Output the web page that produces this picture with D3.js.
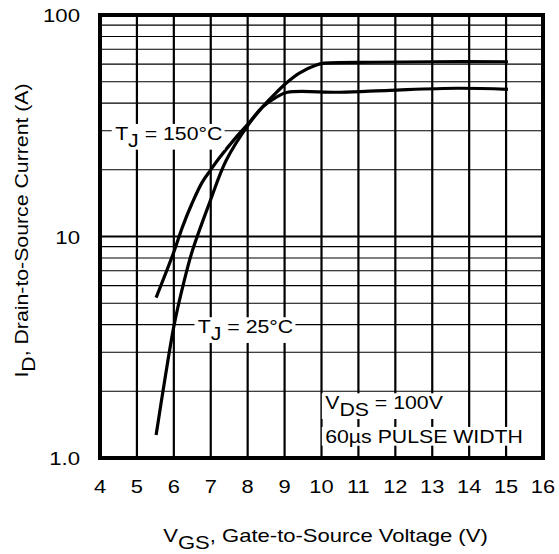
<!DOCTYPE html>
<html>
<head>
<meta charset="utf-8">
<script src="https://cdn.jsdelivr.net/npm/d3@7"></script>
<style>
  body { margin: 0; background: #fff; }
  svg text { font-family: "Liberation Sans", Arial, sans-serif; fill: #000; }
</style>
</head>
<body>
<svg id="chart" width="559" height="554"></svg>
<script>
const xTicks = [4, 5, 6, 7, 8, 9, 10, 11, 12, 13, 14, 15, 16]
const yTicks = [1, 10, 100]
const yTickLabels = ['1.0', '10', '100']
const vgs25 = [5.52, 5.76, 6.01, 6.28, 6.5, 6.96, 7.42, 8.05, 8.4, 8.66, 9.04, 9.4, 9.86, 10.03, 11.4, 13, 15.05]
const id25 = [1.27, 2.28, 4.0, 6.3, 8.6, 14.1, 22.1, 32.5, 38.4, 42.7, 49.2, 54.7, 59.4, 60.5, 61.2, 61.5, 61.5]
const vgs150 = [5.52, 6.01, 6.23, 6.5, 6.77, 7.0, 7.23, 7.69, 8.05, 8.4, 8.78, 9.08, 10.5, 11.85, 13.67, 15.05]
const id150 = [5.3, 8.6, 11.0, 14.2, 17.6, 20.0, 22.6, 28.1, 32.8, 38.4, 42.6, 44.8, 44.8, 45.7, 46.7, 46.2]

const FONT = 19
const SX = 1.12 // glyphs in the source are a bit wide
const SUB = 7

function setDimensions () {
  const margin = {top: 15, right: 16, bottom: 96, left: 100}
  const width = 559 - margin.left - margin.right
  const height = 554 - margin.top - margin.bottom
  return { width, height, margin }
}

function setScales ({ width, height }) {
  return {
    xScale: d3.scaleLinear().domain([4, 16]).range([0, width]),
    yScale: d3.scaleLog().domain([1, 100]).range([height, 0])
  }
}

// text with optional subscripts, stretched horizontally like the source
function addText (parent, x, y, anchor, parts, opts = {}) {
  const sx = opts.sx || SX
  const grp = parent.append('g')
    .attr('transform', `translate(${x},${y})` + (opts.rotate ? ' rotate(-90)' : '') + ` scale(${sx},1)`)
  const t = grp.append('text')
    .attr('text-anchor', anchor)
    .attr('font-size', FONT)
  let shift = 0
  parts.forEach(([str, sub]) => {
    const want = sub ? SUB : 0
    t.append('tspan').attr('dy', want - shift).text(str)
    shift = want
  })
  if (opts.box) { // white box behind the label hides the grid
    const b = t.node().getBBox()
    grp.insert('rect', 'text')
      .attr('x', b.x - 3).attr('y', b.y + 1)
      .attr('width', b.width + 5).attr('height', b.height - 2)
      .attr('fill', '#fff')
  }
  return grp
}

function drawGrid (g, { width, height }, { xScale, yScale }) {
  const minor = []
  for (let d = 1; d < 100; d *= 10) for (let k = 2; k <= 9; k++) minor.push(d * k)
  g.append('g').selectAll('line').data(minor).join('line')
    .attr('x1', 0).attr('x2', width)
    .attr('y1', d => yScale(d)).attr('y2', d => yScale(d))
    .attr('stroke', '#000').attr('stroke-width', 1.1)
  g.append('g').selectAll('line').data([10]).join('line')
    .attr('x1', 0).attr('x2', width)
    .attr('y1', d => yScale(d)).attr('y2', d => yScale(d))
    .attr('stroke', '#000').attr('stroke-width', 2.2)
  g.append('g').selectAll('line').data(xTicks.slice(1, -1)).join('line')
    .attr('x1', d => xScale(d)).attr('x2', d => xScale(d))
    .attr('y1', 0).attr('y2', height)
    .attr('stroke', '#000').attr('stroke-width', 2.2)
}

function drawCurves (g, { xScale, yScale }) {
  const line = d3.line()
    .curve(d3.curveCatmullRom.alpha(0.5))
    .x(d => xScale(d[0]))
    .y(d => yScale(d[1]))
  const series = [d3.zip(vgs25, id25), d3.zip(vgs150, id150)]
  g.append('g').selectAll('path').data(series).join('path')
    .attr('d', line)
    .attr('fill', 'none')
    .attr('stroke', '#000')
    .attr('stroke-width', 3.2)
}

function drawLabels (g, { xScale, yScale }) {
  addText(g, xScale(4.41), yScale(27.3), 'start', [['T'], ['J', true], [' = 150°C']], { box: true })
  addText(g, xScale(6.65), yScale(3.66), 'start', [['T'], ['J', true], [' = 25°C']], { box: true })
  addText(g, xScale(10.1), yScale(1.66), 'start', [['V'], ['DS', true], [' = 100V']], { box: true })
  addText(g, xScale(10.1), yScale(1.17), 'start', [['60µs PULSE WIDTH']], { box: true })
}

function drawAxes (svg, { width, height, margin }, { xScale, yScale }) {
  const ax = svg.append('g').attr('transform', `translate(${margin.left},${margin.top})`)
  xTicks.forEach(d => addText(ax, xScale(d), height + 35, 'middle', [[String(d)]], { sx: 1.15 }))
  yTicks.forEach((d, i) => addText(ax, -20, yScale(d) + 7, 'end', [[yTickLabels[i]]], { sx: 1.17 }))
  addText(ax, width / 2 + 4, height + 84, 'middle', [['V'], ['GS', true], [', Gate-to-Source Voltage (V)']], { sx: 1.16 })
  addText(ax, -72, height / 2 - 6, 'middle', [['I'], ['D', true], [', Drain-to-Source Current  (A)']], { rotate: true })
}

function createGraph () {
  const dim = setDimensions()
  const scales = setScales(dim)
  const svg = d3.select('#chart')
  const g = svg.append('g').attr('transform', `translate(${dim.margin.left},${dim.margin.top})`)
  drawGrid(g, dim, scales)
  drawCurves(g, scales)
  drawLabels(g, scales)
  g.append('rect')
    .attr('width', dim.width).attr('height', dim.height)
    .attr('fill', 'none').attr('stroke', '#000').attr('stroke-width', 4)
  drawAxes(svg, dim, scales)
}

createGraph()
</script>
</body>
</html>
